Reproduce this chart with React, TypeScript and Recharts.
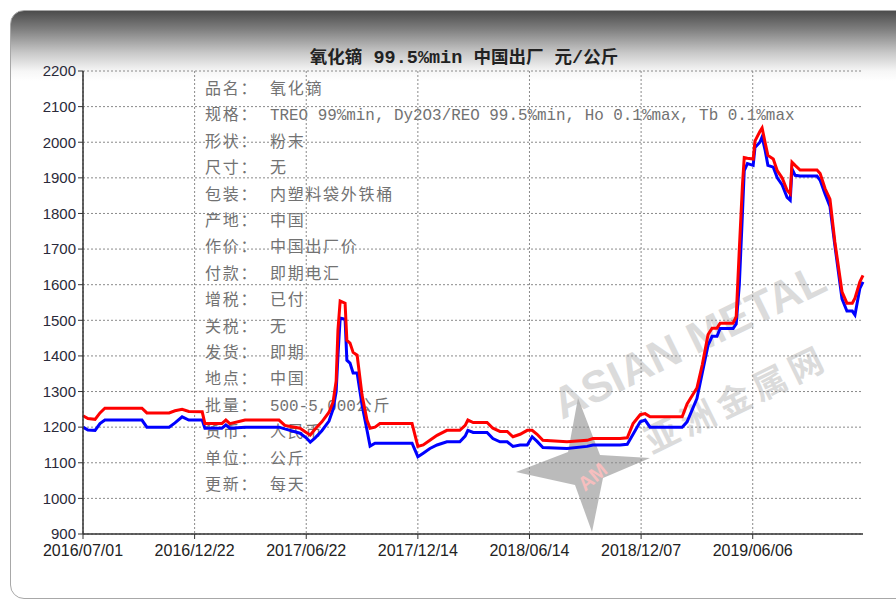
import React from 'react';
import { LineChart, Line, XAxis, YAxis, CartesianGrid } from 'recharts';

// 周序号（每 25 周一个刻度）
const weeks = [
  0, 1.1, 2.7, 3.8, 4.9, 13.2, 14.3, 19.3, 20.6, 22.2, 23.7, 26.7, 27.3, 31.1, 32.0, 32.9,
  36.3, 43.9, 45.2, 48.6, 50.0, 50.9, 52.0, 53.5, 55.1, 56.0, 56.7, 57.1, 57.6, 58.7, 59.1,
  59.8, 60.5, 61.4, 62.5, 63.6, 64.3, 65.4, 66.5, 73.7, 75.0, 76.2, 77.7, 79.3, 81.5, 84.4,
  85.6, 86.2, 87.4, 90.5, 91.8, 93.4, 95.0, 96.3, 97.9, 99.5, 100.6, 101.7, 103.0, 108.4,
  112.9, 114.2, 120.3, 121.9, 123.2, 124.8, 125.9, 127.0, 134.2, 135.3, 137.5, 138.7, 140.0,
  140.9, 142.0, 142.7, 145.6, 146.3, 147.0, 147.7, 148.1, 148.8, 150.1, 150.5, 151.6, 152.1,
  152.8, 153.4, 154.6, 155.5, 156.6, 157.7, 158.4, 158.8, 159.5, 160.6, 164.4, 165.1, 166.2,
  167.3, 168.4, 170.0, 171.1, 172.3, 172.9, 174.0, 174.7,
];

// 高价（红线）
const highPrices = [
  1232, 1224, 1222, 1240, 1253, 1253, 1240, 1240, 1246, 1250, 1244, 1243, 1210, 1210, 1220, 1210,
  1220, 1220, 1205, 1197, 1185, 1178, 1195, 1215, 1242, 1270, 1330, 1472, 1554, 1548, 1444,
  1436, 1410, 1402, 1290, 1220, 1197, 1200, 1210, 1210, 1146, 1150, 1163, 1177, 1191, 1191,
  1205, 1220, 1213, 1213, 1197, 1188, 1188, 1173, 1180, 1191, 1191, 1180, 1163, 1159,
  1163, 1168, 1168, 1170, 1210, 1235, 1238, 1229, 1229, 1265, 1310, 1375, 1460,
  1478, 1478, 1492, 1492, 1510, 1700, 1880, 1957, 1955, 1953, 2003, 2030, 2040,
  1998, 1963, 1953, 1920, 1900, 1865, 1855, 1944, 1935, 1922, 1922, 1912, 1870,
  1840, 1720, 1580, 1548, 1548, 1562, 1608, 1626,
];

// 低价（蓝线）
const lowPrices = [
  1200, 1192, 1191, 1210, 1220, 1220, 1200, 1200, 1212, 1229, 1220, 1220, 1197, 1197, 1206, 1197,
  1200, 1200, 1195, 1183, 1170, 1158, 1170, 1190, 1217, 1250, 1300, 1400, 1506, 1503, 1388,
  1380, 1352, 1352, 1262, 1192, 1147, 1155, 1155, 1155, 1117, 1127, 1140, 1150, 1159, 1159,
  1175, 1191, 1185, 1185, 1168, 1159, 1159, 1146, 1150, 1150, 1173, 1160, 1143, 1140,
  1146, 1150, 1150, 1152, 1180, 1215, 1220, 1200, 1200, 1215, 1280, 1352, 1430,
  1455, 1455, 1477, 1477, 1490, 1600, 1800, 1920, 1940, 1935, 1985, 2000, 2015,
  1976, 1935, 1930, 1900, 1880, 1845, 1837, 1925, 1907, 1905, 1905, 1893, 1855,
  1820, 1710, 1560, 1526, 1526, 1515, 1590, 1608,
];

const tickWeeks = [0, 25, 50, 75, 100, 125, 150];
const tickLabels = ['2016/07/01', '2016/12/22', '2017/06/22', '2017/12/14', '2018/06/14', '2018/12/07', '2019/06/06'];
const yTicks = [900, 1000, 1100, 1200, 1300, 1400, 1500, 1600, 1700, 1800, 1900, 2000, 2100, 2200];
const xMax = 174.7;

const title = '氧化镝 99.5%min 中国出厂 元/公斤';
const infoLabels = ['品名：', '规格：', '形状：', '尺寸：', '包装：', '产地：', '作价：', '付款：', '增税：', '关税：', '发货：', '地点：', '批量：', '货币：', '单位：', '更新：'];
const infoValues = [
  '氧化镝',
  'TREO 99%min, Dy2O3/REO 99.5%min, Ho 0.1%max, Tb 0.1%max',
  '粉末', '无', '内塑料袋外铁桶', '中国', '中国出厂价', '即期电汇', '已付', '无', '即期', '中国',
  '500-5,000公斤', '人民币', '公斤', '每天',
];

const data = weeks.map((w, i) => ({ w, high: highPrices[i], low: lowPrices[i] }));

// 把中英文分段，英文用等宽字体
function runs(str: string, startX: number) {
  const parts: { text: string; ascii: boolean }[] = [];
  for (const ch of str) {
    const ascii = ch.charCodeAt(0) < 128;
    const last = parts[parts.length - 1];
    if (last && last.ascii === ascii) last.text += ch;
    else parts.push({ text: ch, ascii });
  }
  return parts.map((p, i) =>
    p.ascii ? (
      <tspan key={i} x={i === 0 ? startX : undefined} fontFamily="Liberation Mono" fontSize={15.9} style={{ whiteSpace: 'pre' }}>{p.text}</tspan>
    ) : (
      <tspan key={i} x={i === 0 ? startX : undefined} fontFamily="Noto Sans CJK SC" fontSize={16} letterSpacing={1.7}>{p.text}</tspan>
    )
  );
}

export default function App() {
  return (
    <div style={{ position: 'absolute', left: 0, top: 0, width: 896, height: 604, overflow: 'hidden', background: '#fff' }}>
      <div
        style={{
          position: 'absolute', left: 10, top: 10, width: 900, height: 587,
          border: '1px solid #a8a8a8', borderRadius: 14,
          background: 'linear-gradient(#4c4c4c 0px, #7e7e7e 18px, #c9c9c9 42px, #f6f6f6 60px, #ffffff 70px, #ffffff 100%)',
        }}
      />
      <svg width={896} height={604} style={{ position: 'absolute', left: 0, top: 0 }}>
        <text x={464} y={63} textAnchor="middle" fontWeight="bold" fill="#222" style={{ whiteSpace: 'pre' }}>
          {[...title].map((ch, i) =>
            ch.charCodeAt(0) < 128 ? (
              <tspan key={i} fontFamily="Liberation Mono" fontSize={18.5}>{ch}</tspan>
            ) : (
              <tspan key={i} fontFamily="Noto Sans CJK SC" fontSize={17.5}>{ch}</tspan>
            )
          )}
        </text>
        {/* 水印 */}
        <g opacity={0.55}>
          <polygon points="578,398 600,455 650,458 603,478 592,532 575,485 516,472 568,452" fill="#858585" />
          <text x={585} y={492} fontFamily="Liberation Sans" fontWeight="bold" fontSize={20} fill="#f08a8a" transform="rotate(-40 585 492)">AM</text>
        </g>
        <g opacity={0.45}>
          <text x={562} y={420} fontFamily="Liberation Sans" fontWeight="bold" fontSize={44} fill="#b0b0b0" transform="rotate(-26 562 420)">ASIAN METAL</text>
          <text x={652} y={454} fontFamily="Noto Sans CJK SC" fontWeight="bold" fontSize={34} letterSpacing={6} fill="#b0b0b0" transform="rotate(-26 652 454)">亚洲金属网</text>
        </g>
        {infoLabels.map((lab, i) => (
          <text key={i} y={94 + i * 26.4} fill="#727272">
            <tspan x={205} fontFamily="Noto Sans CJK SC" fontSize={16} letterSpacing={1.7}>{lab}</tspan>
            {runs(infoValues[i], 270)}
          </text>
        ))}
      </svg>
      <div style={{ position: 'absolute', left: 0, top: 0 }}>
        <LineChart width={896} height={604} data={data} margin={{ top: 71, right: 33, bottom: 40, left: 0 }}>
          <CartesianGrid
            stroke="#8a8a8a"
            strokeDasharray="2 2"
            verticalCoordinatesGenerator={({ offset }: any) =>
              tickWeeks.map((w) => offset.left + (w / xMax) * offset.width)
            }
          />
          <XAxis
            dataKey="w"
            type="number"
            domain={[0, xMax]}
            ticks={tickWeeks}
            interval={0}
            tickFormatter={(v: number) => tickLabels[tickWeeks.indexOf(v)]}
            height={30}
            tickSize={5}
            tickMargin={6}
            tick={{ fontSize: 16, fill: '#222', fontFamily: 'Liberation Sans' }}
            axisLine={{ stroke: '#333', strokeWidth: 1.5 }}
            tickLine={{ stroke: '#333' }}
          />
          <YAxis
            domain={[900, 2200]}
            ticks={yTicks}
            interval={0}
            width={83}
            tickSize={5}
            tickMargin={2}
            tick={{ fontSize: 15, fill: '#2a2a3a', fontFamily: 'Liberation Sans' }}
            axisLine={{ stroke: '#333', strokeWidth: 1.5 }}
            tickLine={{ stroke: '#333' }}
          />
          <Line type="linear" dataKey="low" stroke="#0000ff" strokeWidth={3} dot={false} isAnimationActive={false} />
          <Line type="linear" dataKey="high" stroke="#ff0000" strokeWidth={3} dot={false} isAnimationActive={false} />
        </LineChart>
      </div>
    </div>
  );
}
